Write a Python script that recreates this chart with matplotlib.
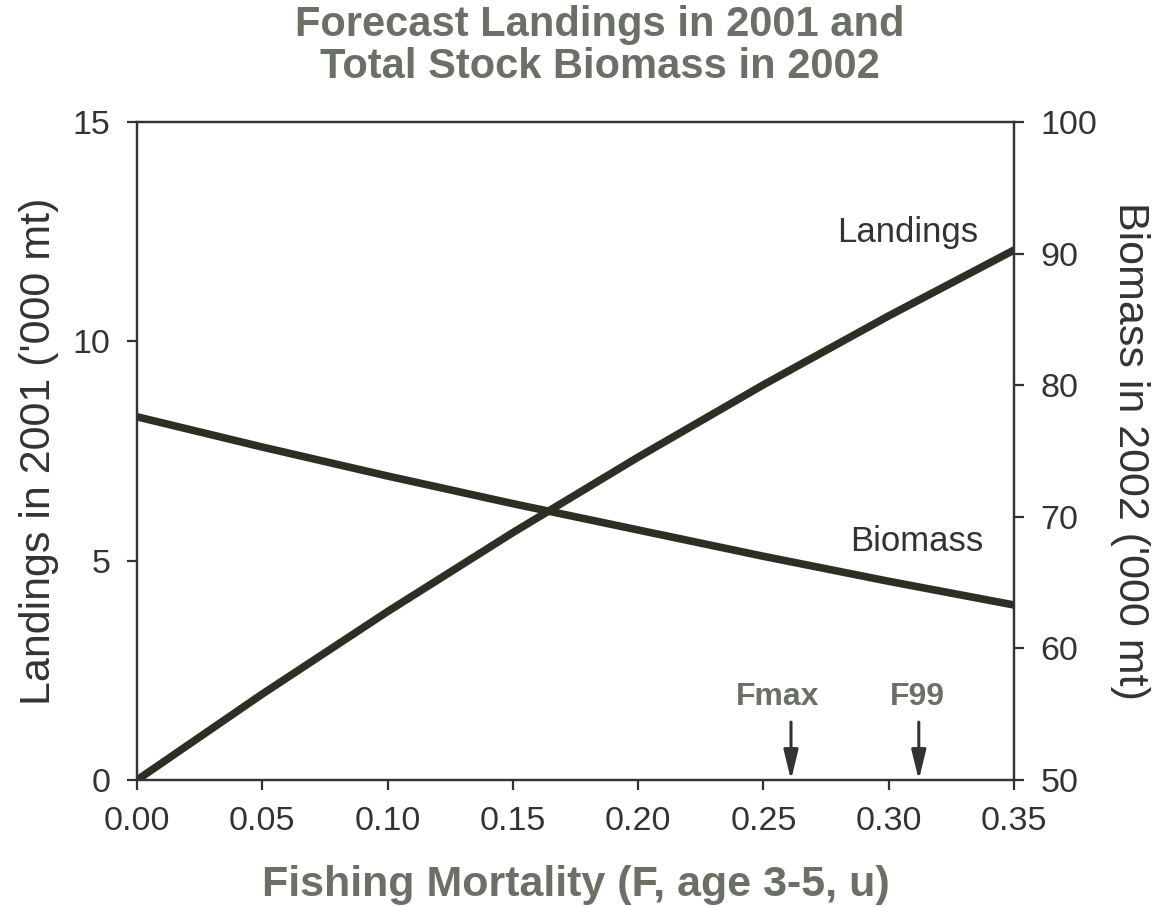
import numpy as np
import matplotlib.pyplot as plt

# Forecast values
fishing_f = [0.00, 0.05, 0.10, 0.15, 0.20, 0.25, 0.30, 0.35]
landings = [0.0, 1.96, 3.84, 5.64, 7.36, 9.01, 10.58, 12.08]    # '000 mt, 2001
biomass = [77.6, 75.3, 73.1, 71.0, 69.0, 67.0, 65.1, 63.3]       # '000 mt, 2002

ref_names = ['Fmax', 'F99']
ref_f = [0.261, 0.312]
ref_label_f = [0.2555, 0.3115]

x_ticks = [0.00, 0.05, 0.10, 0.15, 0.20, 0.25, 0.30, 0.35]
left_ticks = [0, 5, 10, 15]
right_ticks = [50, 60, 70, 80, 90, 100]

plt.rcParams['font.family'] = ['Liberation Sans', 'DejaVu Sans']

line_col = '#2b2f24'
text_dark = '#333333'
text_grey = '#6b7066'

fig = plt.figure(figsize=(11.72, 9.07), dpi=100)
ax = fig.add_axes([0.1169, 0.14, 0.7483, 0.7255])
ax2 = ax.twinx()

# Lines
ax.plot(fishing_f, landings, color=line_col, lw=5.5, solid_capstyle='round')
ax2.plot(fishing_f, biomass, color=line_col, lw=5.5, solid_capstyle='round')

ax.set_xlim(0, 0.35)
ax.set_ylim(0, 15)
ax2.set_ylim(50, 100)

ax.set_xticks(x_ticks)
ax.set_xticklabels([f'{v:.2f}' for v in x_ticks])
ax.set_yticks(left_ticks)
ax2.set_yticks(right_ticks)

for a in (ax, ax2):
    for s in a.spines.values():
        s.set_linewidth(1.6)
        s.set_color(text_dark)
    a.tick_params(direction='out', length=7, width=1.6, color=text_dark,
                  labelsize=24.5, labelcolor=text_dark)
ax.tick_params(axis='x', pad=12)
ax.tick_params(axis='y', pad=12)
ax2.tick_params(axis='y', pad=12)

ax.set_ylabel("Landings in 2001 ('000 mt)", fontsize=31, color=text_dark, labelpad=10)
ax2.set_ylabel("Biomass in 2002 ('000 mt)", fontsize=31, color=text_dark,
               rotation=-90, labelpad=38)
ax.set_xlabel('Fishing Mortality (F, age 3-5, u)', fontsize=31, fontweight='bold',
              color=text_grey, labelpad=20)

# Series labels
ax.text(0.3356, 12.47, 'Landings', fontsize=25, color=text_dark, ha='right', va='center')
ax2.text(0.3376, 68.1, 'Biomass', fontsize=25, color=text_dark, ha='right', va='center')

# Reference points
for name, f, lf in zip(ref_names, ref_f, ref_label_f):
    ax.annotate('', xy=(f, 0.0), xytext=(f, 1.32),
                arrowprops=dict(arrowstyle='-|>,head_width=0.22,head_length=0.9',
                                mutation_scale=20, color=text_dark, lw=2.2,
                                shrinkA=0, shrinkB=0))
    ax.text(lf, 1.9, name, fontsize=23, fontweight='bold', color=text_grey,
            ha='center', va='center')

# Title (top line slightly cut off like the scan)
fig.text(0.512, 1 - 36 / 907, 'Forecast Landings in 2001 and', fontsize=30,
         fontweight='bold', color=text_grey, ha='center', va='baseline')
fig.text(0.512, 1 - 78 / 907, 'Total Stock Biomass in 2002', fontsize=30,
         fontweight='bold', color=text_grey, ha='center', va='baseline')

fig.savefig('out.png', dpi=100)
